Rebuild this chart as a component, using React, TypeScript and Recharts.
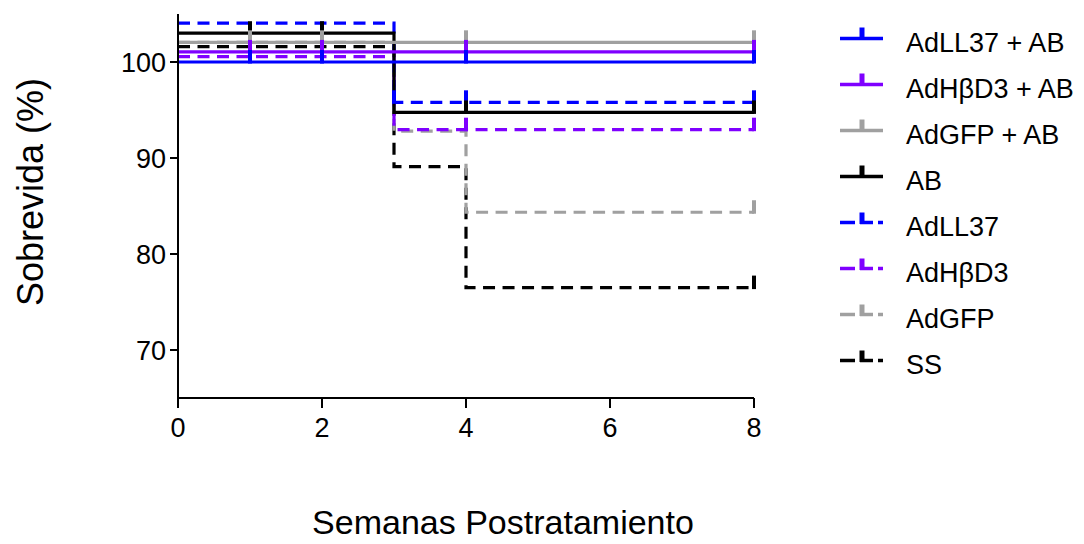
import React from "react";
import { LineChart, Line, XAxis, YAxis } from "recharts";

type Pt = { x: number; y: number; c?: boolean };

const seriesNames = [
  "AdLL37 + AB",
  "AdHβD3 + AB",
  "AdGFP + AB",
  "AB",
  "AdLL37",
  "AdHβD3",
  "AdGFP",
  "SS",
];
const seriesColors = ["#0000FF", "#7F00FF", "#A0A0A0", "#000000", "#0000FF", "#7F00FF", "#A0A0A0", "#000000"];
const seriesDashed = [false, false, false, false, true, true, true, true];

const adLL37AB: Pt[] = [
  { x: 0, y: 100 }, { x: 1, y: 100, c: true }, { x: 2, y: 100, c: true }, { x: 4, y: 100, c: true }, { x: 8, y: 100, c: true },
];
const adHBD3AB: Pt[] = [
  { x: 0, y: 101.05 }, { x: 1, y: 101.05, c: true }, { x: 2, y: 101.05, c: true }, { x: 4, y: 101.05, c: true }, { x: 8, y: 101.05, c: true },
];
const adGFPAB: Pt[] = [
  { x: 0, y: 102.05 }, { x: 1, y: 102.05, c: true }, { x: 2, y: 102.05, c: true }, { x: 4, y: 102.05, c: true }, { x: 8, y: 102.05, c: true },
];
const ab: Pt[] = [
  { x: 0, y: 103.0 }, { x: 1, y: 103.0, c: true }, { x: 2, y: 103.0, c: true }, { x: 3, y: 94.75 }, { x: 4, y: 94.75, c: true }, { x: 8, y: 94.75, c: true },
];
const adLL37: Pt[] = [
  { x: 0, y: 104.05 }, { x: 3, y: 95.8, c: true }, { x: 4, y: 95.8, c: true }, { x: 8, y: 95.8, c: true },
];
const adHBD3: Pt[] = [
  { x: 0, y: 100.55 }, { x: 3, y: 92.95 }, { x: 4, y: 92.95, c: true }, { x: 8, y: 92.95, c: true },
];
const adGFP: Pt[] = [
  { x: 0, y: 102.05 }, { x: 3, y: 92.8 }, { x: 4, y: 84.35 }, { x: 8, y: 84.35, c: true },
];
const ss: Pt[] = [
  { x: 0, y: 101.6 }, { x: 3, y: 89.1 }, { x: 4, y: 76.5 }, { x: 8, y: 76.5, c: true },
];
const seriesData: Pt[][] = [adLL37AB, adHBD3AB, adGFPAB, ab, adLL37, adHBD3, adGFP, ss];

const xTicks = [0, 2, 4, 6, 8];
const yTicks = [70, 80, 90, 100];
const xTitle = "Semanas Postratamiento";
const yTitle = "Sobrevida (%)";

const FONT = "'Liberation Sans', Arial, sans-serif";

const makeDot = (color: string) => (props: any) => {
  const { cx, cy, payload, index } = props;
  if (!payload || !payload.c || cx == null || cy == null) return <g key={`n${index}`} />;
  return (
    <line key={`d${index}`} x1={cx} x2={cx} y1={cy + 1.5} y2={cy - 12} stroke={color} strokeWidth={4} />
  );
};

const XTick = (props: any) => {
  const { x, payload } = props;
  return (
    <text x={x} y={437} textAnchor="middle" fontFamily={FONT} fontSize={27} fill="#000">
      {payload.value}
    </text>
  );
};

const YTick = (props: any) => {
  const { y, payload } = props;
  return (
    <text x={166} y={y + 10} textAnchor="end" fontFamily={FONT} fontSize={27} fill="#000">
      {payload.value}
    </text>
  );
};

const LegendOverlay = () => (
  <svg width={1084} height={544} style={{ position: "absolute", left: 0, top: 0, pointerEvents: "none" }}>
    <text
      x={30}
      y={192}
      transform="rotate(-90 30 192)"
      textAnchor="middle"
      dominantBaseline="central"
      fontFamily={FONT}
      fontSize={36}
      fill="#000"
    >
      {yTitle}
    </text>
    <text x={503} y={534} textAnchor="middle" fontFamily={FONT} fontSize={34} fill="#000">
      {xTitle}
    </text>
    {seriesNames.map((name, i) => {
      const y = 38.5 + i * 46;
      const color = seriesColors[i];
      return (
        <g key={name}>
          {seriesDashed[i] ? (
            <g>
              <line x1={840} x2={855} y1={y} y2={y} stroke={color} strokeWidth={3.5} />
              <line x1={862} x2={862} y1={y + 1.5} y2={y - 10} stroke={color} strokeWidth={5} />
              <line x1={860} x2={873} y1={y} y2={y} stroke={color} strokeWidth={3.5} />
              <line x1={878} x2={883} y1={y} y2={y} stroke={color} strokeWidth={3.5} />
            </g>
          ) : (
            <g>
              <line x1={840} x2={883} y1={y} y2={y} stroke={color} strokeWidth={3.5} />
              <line x1={862} x2={862} y1={y} y2={y - 11} stroke={color} strokeWidth={5} />
            </g>
          )}
          <text x={906} y={y + 13.3} fontFamily={FONT} fontSize={27} fill="#000">
            {name}
          </text>
        </g>
      );
    })}
  </svg>
);

export default function App() {
  const order = [7, 6, 5, 4, 3, 2, 1, 0];
  return (
    <div style={{ position: "absolute", left: 0, top: 0, width: 1084, height: 544, background: "#fff" }}>
      <LineChart
        width={1084}
        height={544}
        margin={{ top: 14, right: 330, bottom: 145, left: 177 }}
      >
        <XAxis
          type="number"
          dataKey="x"
          domain={[0, 8]}
          ticks={xTicks}
          height={1}
          tickSize={10}
          axisLine={{ stroke: "#000", strokeWidth: 2 }}
          tickLine={{ stroke: "#000", strokeWidth: 2 }}
          tick={<XTick />}
          allowDuplicatedCategory={false}
        />
        <YAxis
          type="number"
          dataKey="y"
          domain={[65, 105]}
          ticks={yTicks}
          width={1}
          tickSize={8}
          axisLine={{ stroke: "#000", strokeWidth: 2 }}
          tickLine={{ stroke: "#000", strokeWidth: 2 }}
          tick={<YTick />}
        />
        {order.map((i) => (
          <Line
            key={seriesNames[i]}
            data={seriesData[i]}
            dataKey="y"
            name={seriesNames[i]}
            type="stepAfter"
            stroke={seriesColors[i]}
            strokeWidth={3.2}
            strokeDasharray={seriesDashed[i] ? "12 7.5" : undefined}
            dot={makeDot(seriesColors[i])}
            activeDot={false}
            isAnimationActive={false}
          />
        ))}
      </LineChart>
      <LegendOverlay />
    </div>
  );
}
